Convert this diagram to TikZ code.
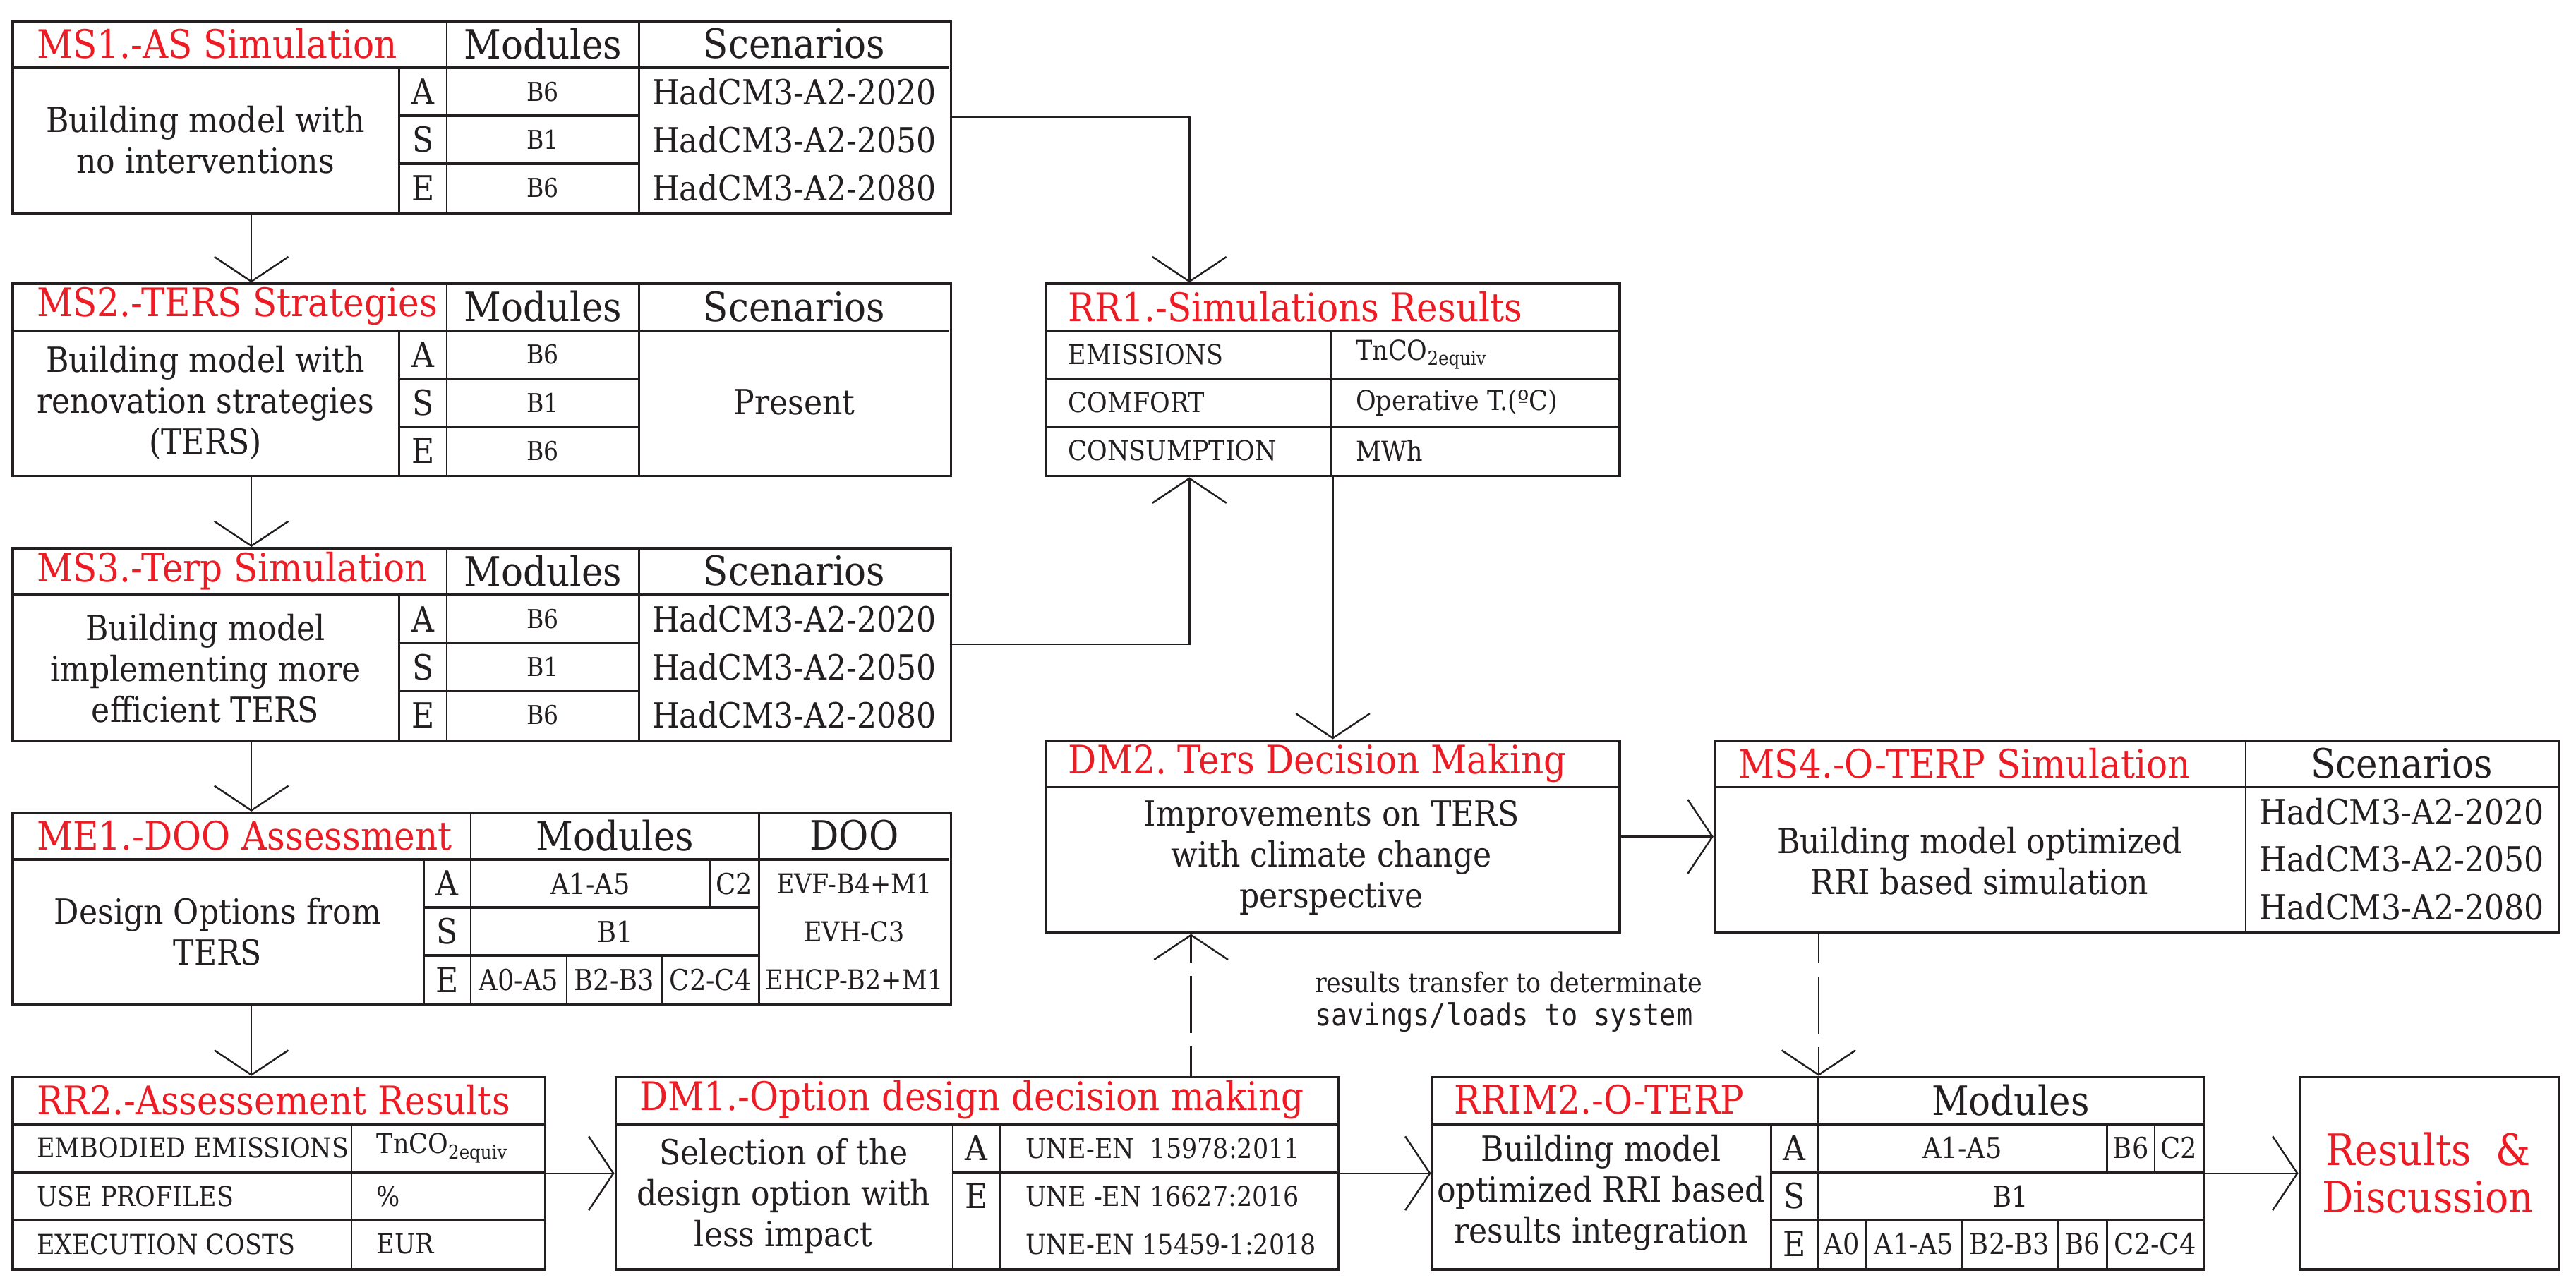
\documentclass[tikz,border=0pt]{standalone}
\usepackage{fontspec}
\setmainfont{DejaVu Serif}[FakeStretch=0.9]
\setmonofont{DejaVu Sans Mono}[FakeStretch=0.9]
\usepackage{tikz}
\usetikzlibrary{calc,arrows.meta}
\definecolor{ink}{HTML}{231F20}
\definecolor{hot}{HTML}{ED1C24}
\frenchspacing
\tikzset{
  tbl/.style={draw=ink, line width=0.9pt, inner sep=0pt, anchor=north west},
  hline/.style={draw=ink, line width=0.9pt},
  vline/.style={draw=ink, line width=0.6pt},
  flow/.style={draw=ink, line width=0.6pt, -{Straight Barb[length=3mm,width=9mm]}},
  dashflow/.style={flow, dash pattern=on 7mm off 1.6mm, dash phase=3.4mm},
  ttl/.style={text=hot, font=\fontsize{13.6}{16}\selectfont, anchor=west, inner sep=0pt},
  hdr/.style={text=ink, font=\fontsize{14}{16}\selectfont, inner sep=0pt},
  desc/.style={text=ink, font=\fontsize{12}{14.2}\selectfont, align=center, inner sep=0pt},
  tag/.style={text=ink, font=\fontsize{12}{14}\selectfont, inner sep=0pt},
  scen/.style={text=ink, font=\fontsize{12}{14}\selectfont, inner sep=0pt},
  cell/.style={text=ink, font=\fontsize{9}{11}\selectfont, inner sep=0pt},
  mod/.style={text=ink, font=\fontsize{10}{12}\selectfont, inner sep=0pt},
  item/.style={text=ink, font=\fontsize{9.5}{11}\selectfont, anchor=west, inner sep=0pt},
}

\begin{document}
\begin{tikzpicture}[x=0.2mm,y=-0.2mm]
  \useasboundingbox (0,0) rectangle (1568,782);

  % MS1
  \node[tbl, minimum width=114.2mm, minimum height=23.4mm] (ms1) at (7,12) {};
  \draw[hline] (7,41.25) -- (578,41.25) (243,70.5) -- (389,70.5) (243,99.75) -- (389,99.75);
  \draw[vline] (243,41.25) -- (243,129) (272,12) -- (272,129) (389,12) -- (389,129);
  \node[ttl] (ms1-t) at (22,26.6) {MS1.-AS Simulation};
  \node[hdr] (ms1-m) at (330.5,26.6) {Modules};
  \node[hdr] (ms1-s) at (483.5,26.6) {Scenarios};
  \node[desc] (ms1-d) at (125,85) {Building model with\\no interventions};
  \foreach \l/\m/\s [count=\i] in {A/B6/2020,S/B1/2050,E/B6/2080}{
    \node[tag] (ms1-l\i) at (257.5,{26.6+29.25*\i}) {\l};
    \node[cell] (ms1-c\i) at (330.5,{26.6+29.25*\i}) {\m};
    \node[scen] (ms1-h\i) at (483.5,{26.6+29.25*\i}) {HadCM3-A2-\s};
  }

  % MS2
  \node[tbl, minimum width=114.2mm, minimum height=23.4mm] (ms2) at (7,172) {};
  \draw[hline] (7,201.25) -- (578,201.25) (243,230.5) -- (389,230.5) (243,259.75) -- (389,259.75);
  \draw[vline] (243,201.25) -- (243,289) (272,172) -- (272,289) (389,172) -- (389,289);
  \node[ttl] (ms2-t) at (22,186.6) {MS2.-TERS Strategies};
  \node[hdr] (ms2-m) at (330.5,186.6) {Modules};
  \node[hdr] (ms2-s) at (483.5,186.6) {Scenarios};
  \node[desc] (ms2-d) at (125,245) {Building model with\\renovation strategies\\(TERS)};
  \foreach \l/\m [count=\i] in {A/B6,S/B1,E/B6}{
    \node[tag] (ms2-l\i) at (257.5,{186.6+29.25*\i}) {\l};
    \node[cell] (ms2-c\i) at (330.5,{186.6+29.25*\i}) {\m};
  }
  \node[scen] (ms2-h) at (483.5,245) {Present};

  % MS3
  \node[tbl, minimum width=114.2mm, minimum height=23.4mm] (ms3) at (7,333) {};
  \draw[hline] (7,362.25) -- (578,362.25) (243,391.5) -- (389,391.5) (243,420.75) -- (389,420.75);
  \draw[vline] (243,362.25) -- (243,450) (272,333) -- (272,450) (389,333) -- (389,450);
  \node[ttl] (ms3-t) at (22,347.6) {MS3.-Terp Simulation};
  \node[hdr] (ms3-m) at (330.5,347.6) {Modules};
  \node[hdr] (ms3-s) at (483.5,347.6) {Scenarios};
  \node[desc] (ms3-d) at (125,407) {Building model\\implementing more\\efficient TERS};
  \foreach \l/\m/\s [count=\i] in {A/B6/2020,S/B1/2050,E/B6/2080}{
    \node[tag] (ms3-l\i) at (257.5,{347.6+29.25*\i}) {\l};
    \node[cell] (ms3-c\i) at (330.5,{347.6+29.25*\i}) {\m};
    \node[scen] (ms3-h\i) at (483.5,{347.6+29.25*\i}) {HadCM3-A2-\s};
  }

  % ME1
  \node[tbl, minimum width=114.2mm, minimum height=23.4mm] (me1) at (7,494) {};
  \draw[hline] (7,523.25) -- (578,523.25) (258,552.5) -- (462,552.5) (258,581.75) -- (462,581.75);
  \draw[vline] (258,523.25) -- (258,611) (286.6,494) -- (286.6,611) (462,494) -- (462,611);
  \draw[vline] (432,523.25) -- (432,552.5) (345,581.75) -- (345,611) (403,581.75) -- (403,611);
  \node[ttl] (me1-t) at (22,508.6) {ME1.-DOO Assessment};
  \node[hdr] (me1-m) at (374.3,508.6) {Modules};
  \node[hdr] (me1-o) at (520,508.6) {DOO};
  \node[desc] (me1-d) at (132.5,567) {Design Options from\\TERS};
  \foreach \l/\o [count=\i] in {A/EVF-B4+M1,S/EVH-C3,E/EHCP-B2+M1}{
    \node[tag] (me1-l\i) at (272.3,{508.6+29.25*\i}) {\l};
    \node[cell, font=\fontsize{9.5}{11}\selectfont] (me1-o\i) at (520,{508.6+29.25*\i}) {\o};
  }
  \node[mod] (me1-a1) at (359.3,537.9) {A1-A5};
  \node[mod] (me1-a2) at (447,537.9) {C2};
  \node[mod] (me1-b1) at (374.3,567.1) {B1};
  \node[mod] (me1-e1) at (315.8,596.4) {A0-A5};
  \node[mod] (me1-e2) at (374,596.4) {B2-B3};
  \node[mod] (me1-e3) at (432.5,596.4) {C2-C4};

  % RR1
  \node[tbl, minimum width=69.8mm, minimum height=23.4mm] (rr1) at (636,172) {};
  \draw[hline] (636,201.25) -- (985,201.25) (636,230.5) -- (985,230.5) (636,259.75) -- (985,259.75);
  \draw[vline] (810.5,201.25) -- (810.5,289);
  \node[ttl] (rr1-t) at (650,186.6) {RR1.-Simulations Results};
  \foreach \k/\v [count=\i] in {EMISSIONS/TnCO\textsubscript{2equiv},COMFORT/Operative T.(ºC),CONSUMPTION/MWh}{
    \node[item] (rr1-k\i) at (650,{186.6+29.25*\i}) {\k};
    \node[item] (rr1-v\i) at (825,{186.6+29.25*\i}) {\v};
  }

  % RR2
  \node[tbl, minimum width=64.8mm, minimum height=23.4mm] (rr2) at (7,655) {};
  \draw[hline] (7,684.25) -- (331,684.25) (7,713.5) -- (331,713.5) (7,742.75) -- (331,742.75);
  \draw[vline] (214,684.25) -- (214,772);
  \node[ttl] (rr2-t) at (22,669.6) {RR2.-Assessement Results};
  \foreach \k/\v [count=\i] in {EMBODIED EMISSIONS/TnCO\textsubscript{2equiv},USE PROFILES/\%,EXECUTION COSTS/EUR}{
    \node[item] (rr2-k\i) at (22,{669.6+29.25*\i}) {\k};
    \node[item] (rr2-v\i) at (229,{669.6+29.25*\i}) {\v};
  }

  % DM1
  \node[tbl, minimum width=88mm, minimum height=23.4mm] (dm1) at (374,655) {};
  \draw[hline] (374,684.25) -- (814,684.25) (580,713.5) -- (814,713.5);
  \draw[vline] (580,684.25) -- (580,772) (609,684.25) -- (609,772);
  \node[ttl] (dm1-t) at (389,669.6) {DM1.-Option design decision making};
  \node[desc] (dm1-d) at (477,728) {Selection of the\\design option with\\less impact};
  \node[tag] (dm1-la) at (594.5,698.9) {A};
  \node[tag] (dm1-le) at (594.5,728.1) {E};
  \node[item] (dm1-n1) at (624,698.9) {UNE-EN\ \ 15978:2011};
  \node[item] (dm1-n2) at (624,728.1) {UNE -EN 16627:2016};
  \node[item] (dm1-n3) at (624,757.4) {UNE-EN 15459-1:2018};

  % DM2
  \node[tbl, minimum width=69.8mm, minimum height=23.4mm] (dm2) at (636,450) {};
  \draw[hline] (636,479.25) -- (985,479.25);
  \node[ttl] (dm2-t) at (650,464.6) {DM2. Ters Decision Making};
  \node[desc] (dm2-d) at (810.5,522) {Improvements on TERS\\with climate change\\perspective};

  % MS4
  \node[tbl, minimum width=102.8mm, minimum height=23.4mm] (ms4) at (1043,450) {};
  \draw[hline] (1043,479.25) -- (1557,479.25);
  \draw[vline] (1367,450) -- (1367,567);
  \node[ttl] (ms4-t) at (1058,464.6) {MS4.-O-TERP Simulation};
  \node[hdr] (ms4-s) at (1462,464.6) {Scenarios};
  \node[desc] (ms4-d) at (1205,524) {Building model optimized\\RRI based simulation};
  \foreach \s [count=\i] in {2020,2050,2080}{
    \node[scen] (ms4-h\i) at (1462,{465+29*\i}) {HadCM3-A2-\s};
  }

  % RRIM2
  \node[tbl, minimum width=94mm, minimum height=23.4mm] (rrim2) at (871,655) {};
  \draw[hline] (871,684.25) -- (1341,684.25) (1078,713.5) -- (1341,713.5) (1078,742.75) -- (1341,742.75);
  \draw[vline] (1078,684.25) -- (1078,772) (1106.5,655) -- (1106.5,772);
  \draw[vline] (1282.5,684.25) -- (1282.5,713.5) (1311.6,684.25) -- (1311.6,713.5);
  \draw[vline] (1136,742.75) -- (1136,772) (1194,742.75) -- (1194,772) (1252.6,742.75) -- (1252.6,772) (1282.5,742.75) -- (1282.5,772);
  \node[ttl] (rrim2-t) at (885,669.6) {RRIM2.-O-TERP};
  \node[hdr] (rrim2-m) at (1223.8,669.6) {Modules};
  \node[desc] (rrim2-d) at (974.5,726) {Building model\\optimized RRI based\\results integration};
  \foreach \l [count=\i] in {A,S,E}{
    \node[tag] (rrim2-l\i) at (1092.3,{669.6+29.25*\i}) {\l};
  }
  \node[mod] (rrim2-a1) at (1194.5,698.9) {A1-A5};
  \node[mod] (rrim2-a2) at (1297,698.9) {B6};
  \node[mod] (rrim2-a3) at (1326.3,698.9) {C2};
  \node[mod] (rrim2-b1) at (1223.8,728.1) {B1};
  \node[mod] (rrim2-e1) at (1121.2,757.4) {A0};
  \node[mod] (rrim2-e2) at (1165,757.4) {A1-A5};
  \node[mod] (rrim2-e3) at (1223.3,757.4) {B2-B3};
  \node[mod] (rrim2-e4) at (1267.5,757.4) {B6};
  \node[mod] (rrim2-e5) at (1311.8,757.4) {C2-C4};

  % results
  \node[tbl, minimum width=31.6mm, minimum height=23.4mm] (res) at (1399,655) {};
  \node[text=hot, font=\fontsize{15}{16.5}\selectfont, align=center, inner sep=0pt] (res-t) at (1478,714) {Results\ \ \&\\Discussion};

  % transfer note
  \node[text=ink, font=\fontsize{9.5}{11.6}\selectfont, align=left, anchor=west, inner sep=0pt] (xfer) at (800,610)
    {results transfer to determinate\\{\fontsize{10.5}{11.6}\selectfont\ttfamily savings/loads to system}};

  % connectors
  \draw[flow] ($(ms1.south west)+(146,0)$) -- ($(ms2.north west)+(146,0)$);
  \draw[flow] ($(ms2.south west)+(146,0)$) -- ($(ms3.north west)+(146,0)$);
  \draw[flow] ($(ms3.south west)+(146,0)$) -- ($(me1.north west)+(146,0)$);
  \draw[flow] ($(me1.south west)+(146,0)$) -- ($(rr2.north west)+(146,0)$);
  \coordinate (rr1-in) at ($(rr1.north west)+(88,0)$);
  \coordinate (rr1-up) at ($(rr1.south west)+(88,0)$);
  \draw[flow] (ms1.east) -| (rr1-in);
  \draw[flow] (ms3.east) -| (rr1-up);
  \draw[flow] (rr1.south) -- (dm2.north);
  \draw[flow] (rr2.east) -- (dm1.west);
  \draw[flow] (dm1.east) -- (rrim2.west);
  \draw[flow] (rrim2.east) -- (res.west);
  \draw[flow] (dm2.east) -- (ms4.west);
  \coordinate (dm2-in) at ($(dm2.south west)+(89,0)$);
  \coordinate (rrim2-in) at ($(rrim2.north west)+(236,0)$);
  \draw[dashflow] (dm1.north -| dm2-in) -- (dm2-in);
  \draw[dashflow] (ms4.south -| rrim2-in) -- (rrim2-in);
\end{tikzpicture}
\end{document}
